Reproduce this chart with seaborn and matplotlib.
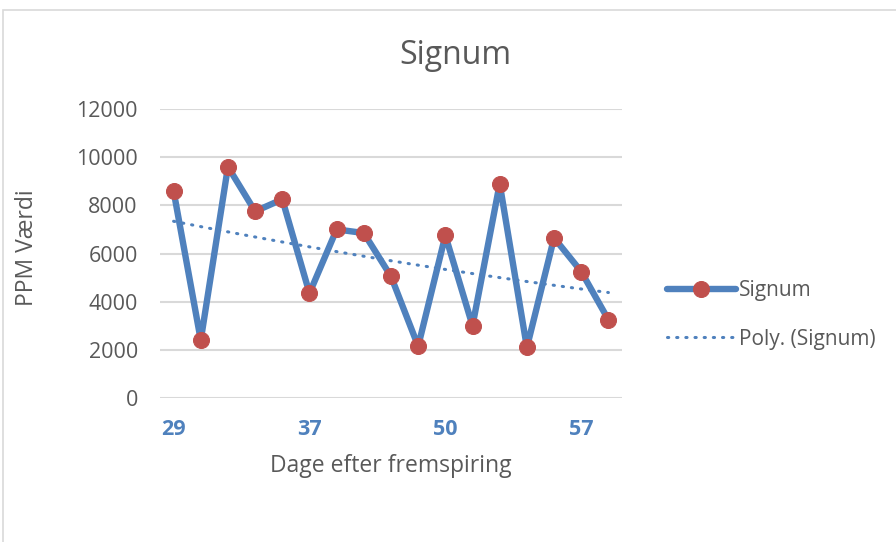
import numpy as np
import pandas as pd
import matplotlib
matplotlib.use("Agg")
import matplotlib.pyplot as plt
from matplotlib.patches import Rectangle
import seaborn as sns

# Measurements: PPM value per sample, in order of days after emergence
ppm_values = [8600, 2400, 9600, 7750, 8250, 4350, 7000, 6850, 5050,
              2150, 6750, 3000, 8900, 2100, 6650, 5250, 3250]
tick_positions = [0, 5, 10, 15]
tick_labels = ["29", "37", "50", "57"]
y_ticks = [0, 2000, 4000, 6000, 8000, 10000, 12000]

series_name = "Signum"
trend_name = "Poly. (Signum)"
title = "Signum"
x_title = "Dage efter fremspiring"
y_title = "PPM Værdi"

LINE_BLUE = "#4F81BD"
MARKER_RED = "#C0504D"
TEXT_GRAY = "#595959"
GRID_GRAY = "#D9D9D9"

sns.set_theme(style="white")
plt.rcParams["font.family"] = ["Open Sans", "DejaVu Sans"]

df = pd.DataFrame({"idx": np.arange(len(ppm_values)), "ppm": ppm_values})

# Second order polynomial trend over the sample index (1-based, like a spreadsheet trendline)
xs = df["idx"].to_numpy() + 1
coef = np.polyfit(xs, df["ppm"].to_numpy(), 2)
df["trend"] = np.polyval(coef, xs)

fig = plt.figure(figsize=(8.96, 5.42), dpi=100)
fig.patch.set_facecolor("white")
ax = fig.add_axes([160 / 896, 1 - 398 / 542, 462 / 896, 289 / 542])

# outer chart frame
fig.patches.append(Rectangle((3 / 896, -0.1), 1.2, 1 - 10 / 542 + 0.1,
                             transform=fig.transFigure, fill=False,
                             edgecolor=GRID_GRAY, linewidth=1.2, zorder=0))

sns.lineplot(data=df, x="idx", y="trend", ax=ax, color=LINE_BLUE,
             linewidth=2.2, linestyle=(0, (0.4, 2.6)), dash_capstyle="round",
             label=trend_name, zorder=3)
sns.lineplot(data=df, x="idx", y="ppm", ax=ax, color=LINE_BLUE,
             linewidth=4.6, marker="o", markersize=11.5,
             markerfacecolor=MARKER_RED, markeredgecolor=MARKER_RED,
             label=series_name, zorder=4)

ax.set_xlim(-0.5, len(ppm_values) - 0.5)
ax.set_ylim(0, 12000)
ax.set_yticks(y_ticks)
ax.set_yticklabels([str(v) for v in y_ticks])
ax.set_xticks(tick_positions)
ax.set_xticklabels(tick_labels)

ax.grid(axis="y", color=GRID_GRAY, linewidth=1.5)
ax.set_axisbelow(True)
for side in ["top", "right", "left", "bottom"]:
    ax.spines[side].set_visible(False)
ax.tick_params(axis="both", length=0)
ax.tick_params(axis="y", labelsize=15.5, labelcolor=TEXT_GRAY, pad=16)
ax.tick_params(axis="x", labelsize=15.5, labelcolor=LINE_BLUE, pad=15)
for lab in ax.get_xticklabels():
    lab.set_fontweight("bold")

ax.set_xlabel(x_title, fontsize=16.5, color=TEXT_GRAY, labelpad=10)
ax.set_ylabel(y_title, fontsize=16.5, color=TEXT_GRAY)
ax.yaxis.set_label_coords(39 / 896, 1 - 248 / 542, transform=fig.transFigure)

fig.text(455 / 896, 1 - 55 / 542, title, fontsize=23, color=TEXT_GRAY,
         ha="center", va="center")

handles, labels = ax.get_legend_handles_labels()
order = [labels.index(series_name), labels.index(trend_name)]
ax.legend([handles[i] for i in order], [labels[i] for i in order],
          loc="center left", bbox_to_anchor=(648 / 896, 1 - 315 / 542),
          bbox_transform=fig.transFigure, frameon=False, fontsize=15,
          handlelength=3.3, handletextpad=0.15, labelspacing=1.3,
          labelcolor=TEXT_GRAY)

fig.savefig("out.png", dpi=100, facecolor="white")
